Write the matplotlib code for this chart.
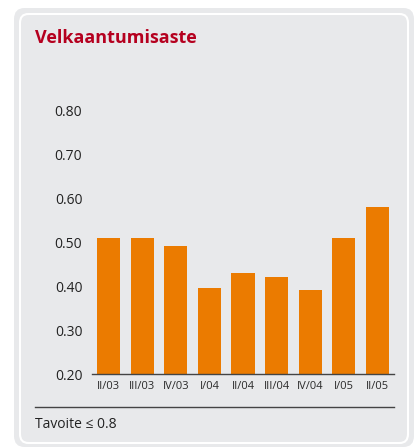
import matplotlib.pyplot as plt
from matplotlib.patches import FancyBboxPatch

plt.rcParams['font.family'] = ['Open Sans', 'DejaVu Sans']

quarters = ['II/03', 'III/03', 'IV/03', 'I/04', 'II/04', 'III/04', 'IV/04', 'I/05', 'II/05']
ratio = [0.51, 0.51, 0.49, 0.395, 0.43, 0.42, 0.39, 0.51, 0.58]
yticks = [0.20, 0.30, 0.40, 0.50, 0.60, 0.70, 0.80]

W, H = 417, 447
fig = plt.figure(figsize=(W / 100, H / 100), dpi=100)
fig.patch.set_facecolor('white')

# rounded grey panel with thin white inner line
outer = FancyBboxPatch((14 / W, 0), 400 / W, 439 / H,
                       boxstyle='round,pad=0,rounding_size=0.025',
                       transform=fig.transFigure, facecolor='#e8e9eb',
                       edgecolor='none', zorder=-2)
inner = FancyBboxPatch((20 / W, 4 / H), 388 / W, 429 / H,
                       boxstyle='round,pad=0,rounding_size=0.02',
                       transform=fig.transFigure, facecolor='none',
                       edgecolor='white', linewidth=1.5, zorder=-1)
fig.patches.extend([outer, inner])

ax = fig.add_axes([92 / W, 73 / H, 302 / W, 264 / H])
ax.set_facecolor('none')
ax.bar(range(len(quarters)), ratio, width=0.69, color='#eb7b00', bottom=0)
ax.set_xlim(-0.5, len(quarters) - 0.5)
ax.set_ylim(0.2, 0.8)
ax.set_yticks(yticks)
ax.set_yticklabels(['%.2f' % v for v in yticks], fontsize=10, color='#222222')
ax.set_xticks(range(len(quarters)))
ax.set_xticklabels(quarters, fontsize=8, color='#2a2a2a')
ax.tick_params(axis='both', length=0)
ax.tick_params(axis='y', pad=7)
ax.tick_params(axis='x', pad=5)
for s in ['top', 'right', 'left']:
    ax.spines[s].set_visible(False)
ax.spines['bottom'].set_color('#444444')
ax.spines['bottom'].set_linewidth(1)
for lbl in ax.get_yticklabels():
    lbl.set_clip_on(False)

fig.text(35 / W, 1 - 38 / H, 'Velkaantumisaste', fontsize=13, fontweight='bold',
         color='#b5001f', va='center', ha='left')

fig.add_artist(plt.Line2D([35 / W, 394 / W], [1 - 407 / H, 1 - 407 / H],
                          transform=fig.transFigure, color='#444444', linewidth=1))
fig.text(35 / W, 1 - 424 / H, 'Tavoite ≤ 0.8', fontsize=10, color='#222222',
         va='center', ha='left')

fig.savefig('out.png', dpi=100)
